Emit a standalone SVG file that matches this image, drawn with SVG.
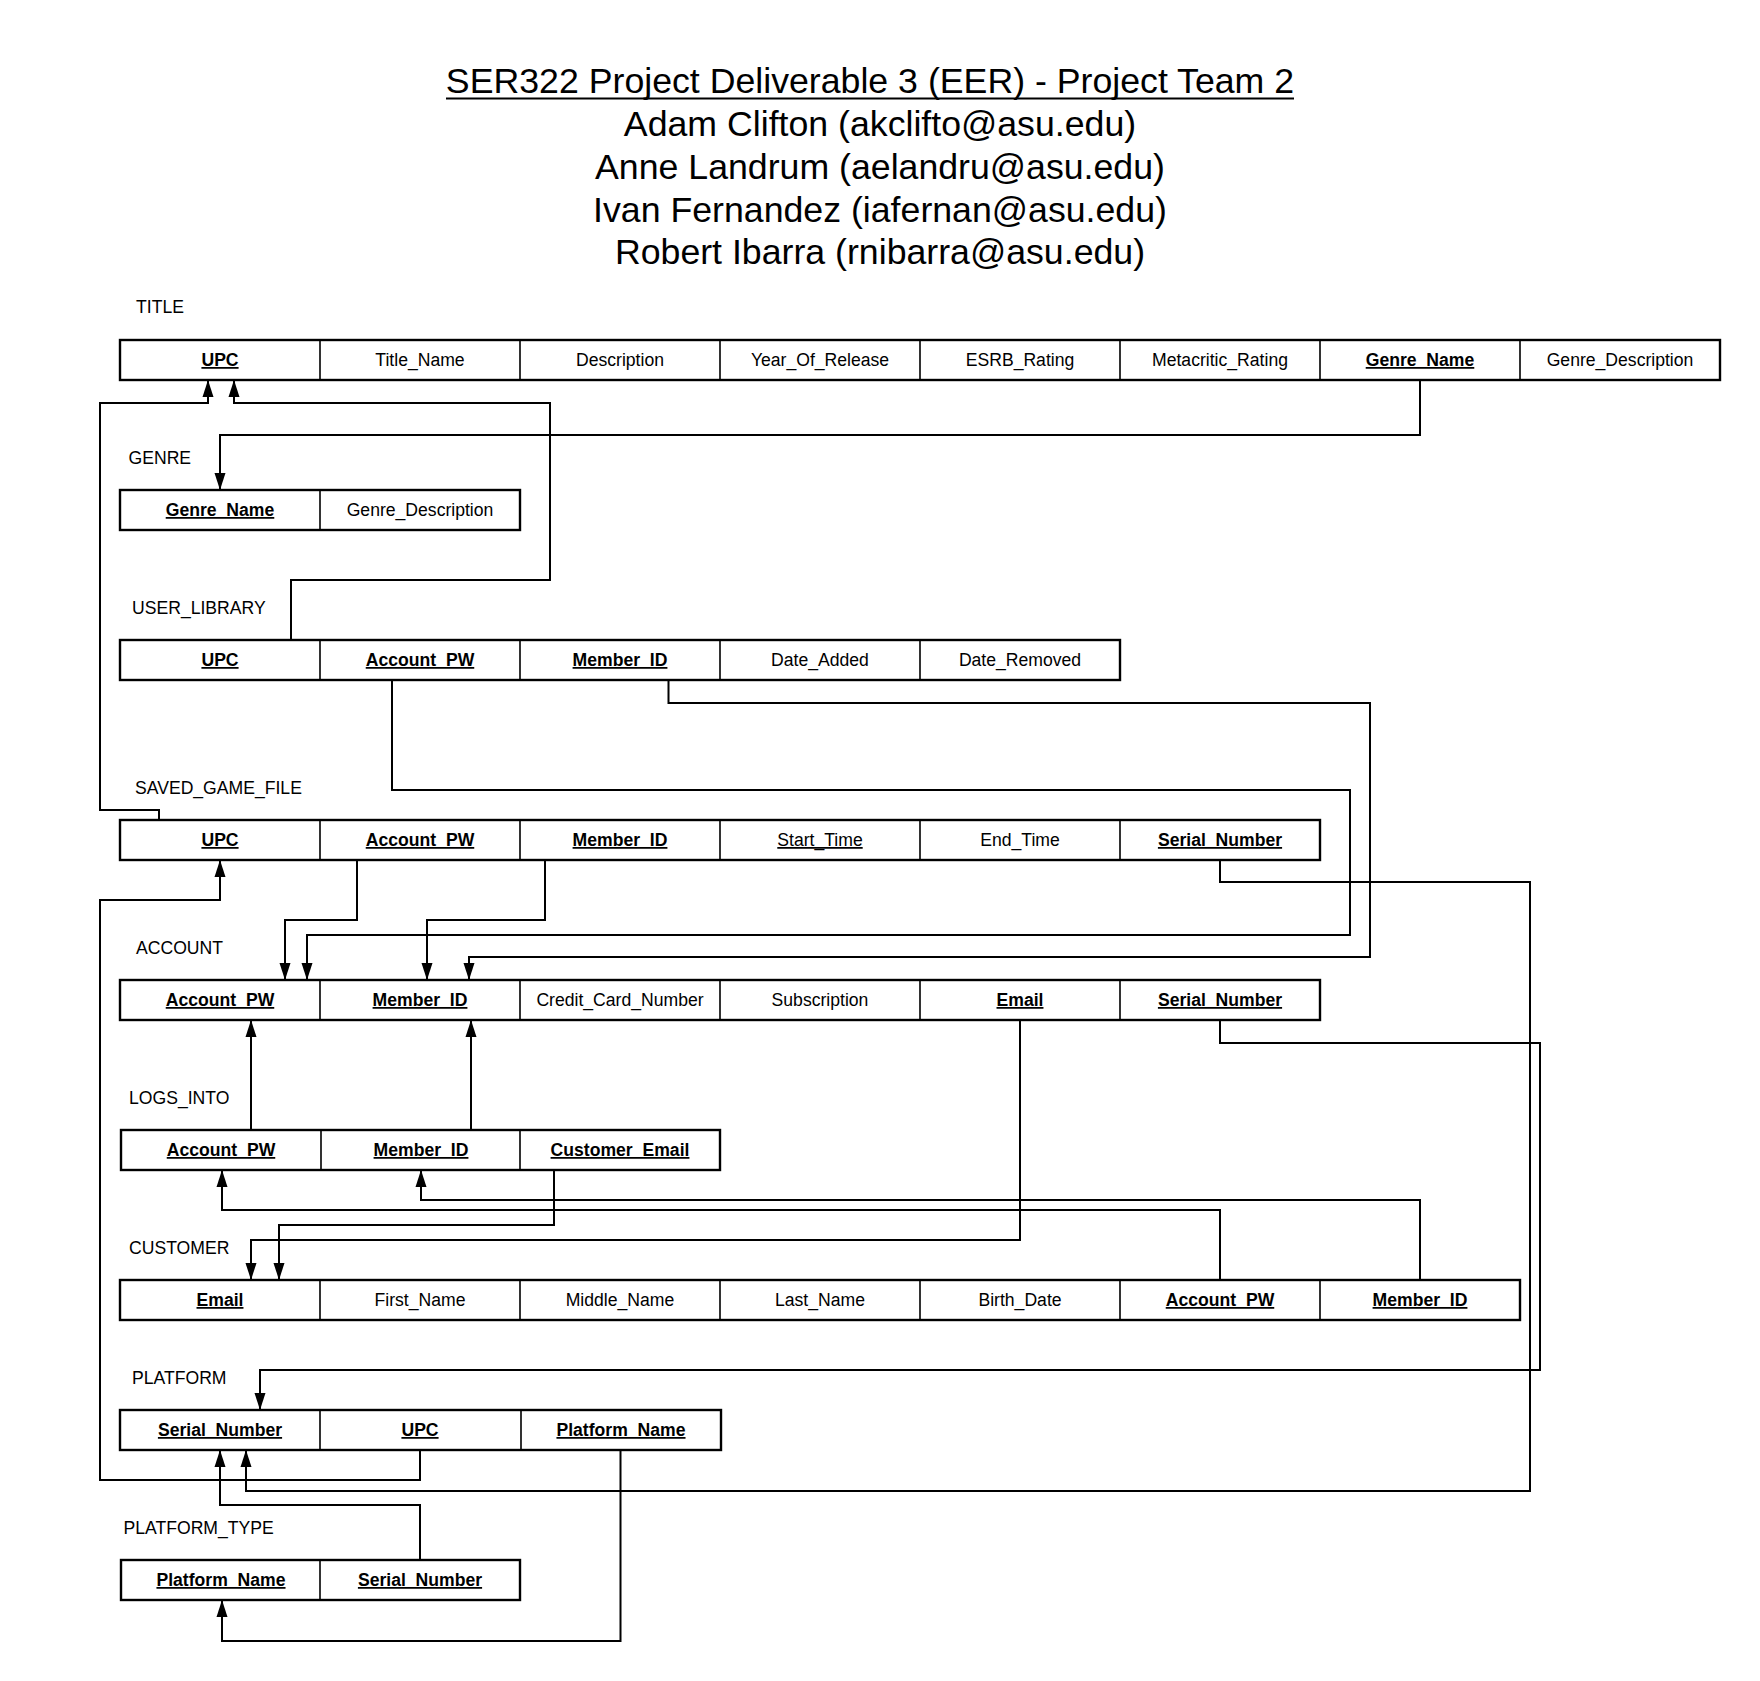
<svg xmlns="http://www.w3.org/2000/svg" width="1760" height="1681" viewBox="0 0 1760 1681">
<style>
text{font-family:"Liberation Sans",Arial,sans-serif;fill:#000}
.h{font-size:35.7px;text-anchor:middle}
.lbl{font-size:17.6px}
.c{font-size:17.6px;text-anchor:middle}
.k{font-weight:bold;text-decoration:underline}
.u{text-decoration:underline}
.box{fill:#fff;stroke:#000;stroke-width:2.4}
.div{stroke:#000;stroke-width:1.6}
.con{fill:none;stroke:#000;stroke-width:2;marker-end:url(#arr)}
</style>
<defs>
<marker id="arr" markerUnits="userSpaceOnUse" markerWidth="18" markerHeight="12" refX="17" refY="5.5" orient="auto" viewBox="0 0 18 11">
<path d="M0,0 L17,5.5 L0,11 z" fill="#000"/>
</marker>
</defs>
<rect width="1760" height="1681" fill="#fff"/>
<g id="heading">
<text class="h" x="870" y="93">SER322 Project Deliverable 3 (EER) - Project Team 2</text>
<line x1="446" y1="98.5" x2="1294" y2="98.5" stroke="#000" stroke-width="2"/>
<text class="h" x="880" y="136">Adam Clifton (akclifto@asu.edu)</text>
<text class="h" x="880" y="179">Anne Landrum (aelandru@asu.edu)</text>
<text class="h" x="880" y="222">Ivan Fernandez (iafernan@asu.edu)</text>
<text class="h" x="880" y="264">Robert Ibarra (rnibarra@asu.edu)</text>
</g>
<g id="connectors">
<path class="con" d="M1420,380 V435 H220 V490"/>
<path class="con" d="M159,820 V810 H100 V403 H208 V380"/>
<path class="con" d="M420,1450 V1480 H100 V900 H220 V860"/>
<path class="con" d="M291,640 V580 H550 V403 H234 V380"/>
<path class="con" d="M392,680 V790 H1350 V935 H307 V980"/>
<path class="con" d="M668.5,680 V703 H1370 V957 H469 V980"/>
<path class="con" d="M357,860 V920 H285 V980"/>
<path class="con" d="M545,860 V920 H427 V980"/>
<path class="con" d="M1220,860 V882 H1530 V1491 H246 V1450"/>
<path class="con" d="M1220,1020 V1043 H1540 V1370 H260 V1410"/>
<path class="con" d="M1020,1020 V1240 H251 V1280"/>
<path class="con" d="M554,1170 V1225 H279 V1280"/>
<path class="con" d="M251,1130 V1020"/>
<path class="con" d="M471,1130 V1020"/>
<path class="con" d="M1220,1280 V1210 H222 V1170"/>
<path class="con" d="M1420,1280 V1200 H421 V1170"/>
<path class="con" d="M420,1560 V1505 H220 V1450"/>
<path class="con" d="M620.5,1450 V1641 H222 V1600"/>
</g>
<g id="title">
<text class="lbl" x="136" y="313">TITLE</text>
<rect class="box" x="120" y="340" width="1600" height="40"/>
<path class="div" d="M320,340V380M520,340V380M720,340V380M920,340V380M1120,340V380M1320,340V380M1520,340V380"/>
<text class="c k" x="220" y="366">UPC</text>
<text class="c" x="420" y="366">Title_Name</text>
<text class="c" x="620" y="366">Description</text>
<text class="c" x="820" y="366">Year_Of_Release</text>
<text class="c" x="1020" y="366">ESRB_Rating</text>
<text class="c" x="1220" y="366">Metacritic_Rating</text>
<text class="c k" x="1420" y="366">Genre_Name</text>
<text class="c" x="1620" y="366">Genre_Description</text>
</g>
<g id="genre">
<text class="lbl" x="128.5" y="464">GENRE</text>
<rect class="box" x="120" y="490" width="400" height="40"/>
<path class="div" d="M320,490V530"/>
<text class="c k" x="220" y="516">Genre_Name</text>
<text class="c" x="420" y="516">Genre_Description</text>
</g>
<g id="user_library">
<text class="lbl" x="132" y="614">USER_LIBRARY</text>
<rect class="box" x="120" y="640" width="1000" height="40"/>
<path class="div" d="M320,640V680M520,640V680M720,640V680M920,640V680"/>
<text class="c k" x="220" y="666">UPC</text>
<text class="c k" x="420" y="666">Account_PW</text>
<text class="c k" x="620" y="666">Member_ID</text>
<text class="c" x="820" y="666">Date_Added</text>
<text class="c" x="1020" y="666">Date_Removed</text>
</g>
<g id="saved_game_file">
<text class="lbl" x="135" y="794">SAVED_GAME_FILE</text>
<rect class="box" x="120" y="820" width="1200" height="40"/>
<path class="div" d="M320,820V860M520,820V860M720,820V860M920,820V860M1120,820V860"/>
<text class="c k" x="220" y="846">UPC</text>
<text class="c k" x="420" y="846">Account_PW</text>
<text class="c k" x="620" y="846">Member_ID</text>
<text class="c u" x="820" y="846">Start_Time</text>
<text class="c" x="1020" y="846">End_Time</text>
<text class="c k" x="1220" y="846">Serial_Number</text>
</g>
<g id="account">
<text class="lbl" x="136" y="954">ACCOUNT</text>
<rect class="box" x="120" y="980" width="1200" height="40"/>
<path class="div" d="M320,980V1020M520,980V1020M720,980V1020M920,980V1020M1120,980V1020"/>
<text class="c k" x="220" y="1006">Account_PW</text>
<text class="c k" x="420" y="1006">Member_ID</text>
<text class="c" x="620" y="1006">Credit_Card_Number</text>
<text class="c" x="820" y="1006">Subscription</text>
<text class="c k" x="1020" y="1006">Email</text>
<text class="c k" x="1220" y="1006">Serial_Number</text>
</g>
<g id="logs_into">
<text class="lbl" x="129" y="1104">LOGS_INTO</text>
<rect class="box" x="121" y="1130" width="599" height="40"/>
<path class="div" d="M321,1130V1170M520,1130V1170"/>
<text class="c k" x="221" y="1156">Account_PW</text>
<text class="c k" x="421" y="1156">Member_ID</text>
<text class="c k" x="620" y="1156">Customer_Email</text>
</g>
<g id="customer">
<text class="lbl" x="129" y="1254">CUSTOMER</text>
<rect class="box" x="120" y="1280" width="1400" height="40"/>
<path class="div" d="M320,1280V1320M520,1280V1320M720,1280V1320M920,1280V1320M1120,1280V1320M1320,1280V1320"/>
<text class="c k" x="220" y="1306">Email</text>
<text class="c" x="420" y="1306">First_Name</text>
<text class="c" x="620" y="1306">Middle_Name</text>
<text class="c" x="820" y="1306">Last_Name</text>
<text class="c" x="1020" y="1306">Birth_Date</text>
<text class="c k" x="1220" y="1306">Account_PW</text>
<text class="c k" x="1420" y="1306">Member_ID</text>
</g>
<g id="platform">
<text class="lbl" x="132" y="1384">PLATFORM</text>
<rect class="box" x="120" y="1410" width="601" height="40"/>
<path class="div" d="M320,1410V1450M521,1410V1450"/>
<text class="c k" x="220" y="1436">Serial_Number</text>
<text class="c k" x="420" y="1436">UPC</text>
<text class="c k" x="621" y="1436">Platform_Name</text>
</g>
<g id="platform_type">
<text class="lbl" x="123.5" y="1534">PLATFORM_TYPE</text>
<rect class="box" x="121" y="1560" width="399" height="40"/>
<path class="div" d="M320,1560V1600"/>
<text class="c k" x="221" y="1586">Platform_Name</text>
<text class="c k" x="420" y="1586">Serial_Number</text>
</g>
</svg>
